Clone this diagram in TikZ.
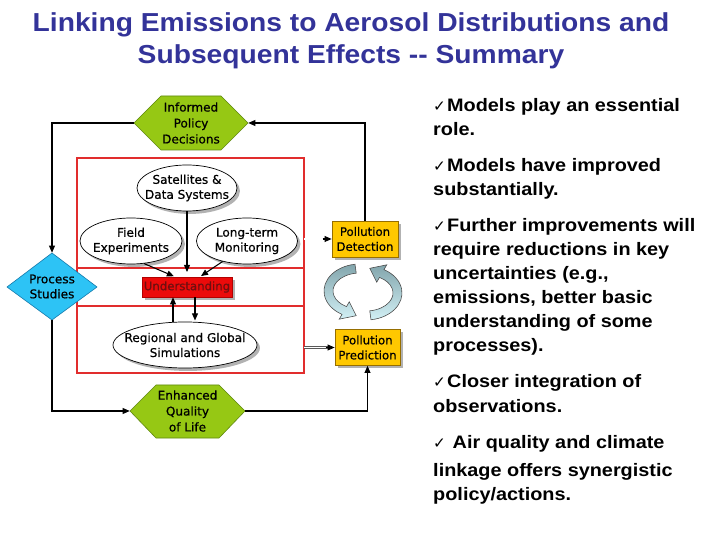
\documentclass[tikz,border=0pt]{standalone}
\usepackage{fontspec}
\setmainfont{Liberation Sans}
\newfontfamily\titlefont[FakeStretch=1.085]{Liberation Sans}
\newfontfamily\rfont[FakeStretch=1.1]{Liberation Sans}
\newfontfamily\dfont[FakeBold=0.6]{DejaVu Sans}
\newfontfamily\ckfont{DejaVu Sans}
\usetikzlibrary{shapes.geometric,arrows.meta,shadows,calc}
\definecolor{titleblue}{RGB}{51,51,153}
\definecolor{hexgreen}{RGB}{150,200,20}
\definecolor{hexedge}{RGB}{95,135,15}
\definecolor{diamblue}{RGB}{45,195,245}
\definecolor{diamedge}{RGB}{20,120,170}
\definecolor{boxyellow}{RGB}{255,200,0}
\definecolor{boxedge}{RGB}{150,110,0}
\definecolor{undred}{RGB}{235,10,10}
\definecolor{undtext}{RGB}{110,15,15}
\definecolor{bandred}{RGB}{225,45,45}
\definecolor{cyclight}{RGB}{210,240,245}
\definecolor{cycdark}{RGB}{130,165,172}
\newcommand\pxu{0.8536pt}
\newcommand\chk{{\ckfont\fontsize{13}{13}\selectfont ✓}\kern1pt}
\newcommand\cycpath{(354.99,264.26) arc[start angle=262, end angle=120, x radius=36, y radius=27]
  -- (339.25,319.16) -- (356.2,315.7) -- (349.25,301.84) -- (346.5,306.59)
  arc[start angle=120, end angle=262, x radius=27, y radius=18] -- cycle}
\begin{document}
\begin{tikzpicture}[x=0.03cm,y=-0.03cm,
  arr/.style={-{Triangle[length=6pt,width=5pt]}, line width=0.9pt},
  shd/.style={general shadow={fill=gray!60, shadow xshift=2.5pt, shadow yshift=-2.5pt}},
  ell/.style={ellipse, draw, fill=white, line width=0.6pt, inner sep=0, shd},
  dtext/.style={font=\dfont\fontsize{10.3}{12.8}\selectfont, align=center, inner sep=0},
  hextext/.style={dtext, font=\dfont\fontsize{10.3}{13.6}\selectfont},
  hexs/.style={fill=hexgreen, draw=hexedge, line width=0.5pt},
  pbox/.style={rectangle, fill=boxyellow, draw=boxedge, line width=0.6pt, inner sep=0, align=center,
    font=\dfont\fontsize{10}{12.8}\selectfont, shd},
  bandline/.style={draw=bandred, line width=0.9pt},
  dbl/.style={draw=gray!70!black, double=white, double distance=1.5pt, line width=0.5pt},
  rt/.style={anchor=base west, inner sep=0, font=\rfont\bfseries\fontsize{15.4}{20}\selectfont},
  ttl/.style={anchor=base, inner sep=0, text=titleblue, font=\titlefont\bfseries\fontsize{22.2}{26}\selectfont}
]
\useasboundingbox (0,0) rectangle (720,540);
\fill[white] (0,0) rectangle (720,540);

% title
\node[ttl] (t1) at (351,32) {Linking Emissions to Aerosol Distributions and};
\node[ttl] (t2) at (351,64) {Subsequent Effects -{}- Summary};

% right text
\node[rt] (r1) at (433,112) {\chk Models play an essential};
\node[rt] (r2) at (433,136) {role.};
\node[rt] (r3) at (433,172) {\chk Models have improved};
\node[rt] (r4) at (433,196) {substantially.};
\node[rt] (r5) at (433,232) {\chk Further improvements will};
\node[rt] (r6) at (433,256) {require reductions in key};
\node[rt] (r7) at (433,280) {uncertainties (e.g.,};
\node[rt] (r8) at (433,304) {emissions, better basic};
\node[rt] (r9) at (433,328) {understanding of some};
\node[rt] (r10) at (433,352) {processes).};
\node[rt] (r11) at (433,388) {\chk Closer integration of};
\node[rt] (r12) at (433,412) {observations.};
\node[rt] (r13) at (433,448) {\chk\ Air quality and climate};
\node[rt] (r14) at (433,476) {linkage offers synergistic};
\node[rt] (r15) at (433,500) {policy/actions.};

% red observation box with bands
\draw[bandline] (77,158) rectangle (304,373);
\draw[bandline] (77,268) -- (304,268);
\draw[bandline] (77,306) -- (304,306);

% hexagons and diamond
\filldraw[hexs] (134,123) -- (161,96) -- (221,96) -- (248,123) -- (221,150) -- (161,150) -- cycle;
\node[hextext, minimum width=114*\pxu, minimum height=54*\pxu] (ipd) at (191,123) {Informed\\Policy\\Decisions};
\filldraw[hexs] (130,411) -- (156,385) -- (219,385) -- (245,411) -- (219,438) -- (156,438) -- cycle;
\node[hextext, minimum width=115*\pxu, minimum height=53*\pxu] (eql) at (187.5,411) {Enhanced\\Quality\\of Life};
\filldraw[fill=diamblue, draw=diamedge, line width=0.5pt] (7,287) -- (52,253) -- (97,287) -- (52,320) -- cycle;
\node[dtext, minimum width=90*\pxu, minimum height=67*\pxu] (ps) at (52,286.5) {Process\\Studies};

% ellipses
\node[ell, minimum width=100*\pxu, minimum height=46*\pxu] (sat) at (187,188) {};
\node[dtext] (satt) at (sat) {Satellites \&\\Data Systems};
\node[ell, minimum width=102*\pxu, minimum height=46*\pxu] (fe) at (131,241) {};
\node[dtext] (fet) at (fe) {Field\\Experiments};
\node[ell, minimum width=101*\pxu, minimum height=46*\pxu] (lt) at (247,241) {};
\node[dtext] (ltt) at (lt) {Long-term\\Monitoring};
\node[ell, minimum width=144*\pxu, minimum height=46*\pxu] (reg) at (185,345) {};
\node[dtext] (regt) at (reg) {Regional and Global\\Simulations};

% understanding
\node[rectangle, fill=undred, draw=red!70!black, line width=0.5pt, inner sep=0, shd,
  minimum width=90*\pxu, minimum height=20*\pxu, text=undtext,
  font=\dfont\fontsize{10}{12}\selectfont] (und) at (187,287) {Understanding};

% pollution boxes
\node[pbox, minimum width=66*\pxu, minimum height=36*\pxu] (pd) at (365,239) {Pollution\\Detection};
\node[pbox, minimum width=65*\pxu, minimum height=36*\pxu] (pp) at (367.5,347.5) {Pollution\\Prediction};

% outer loop connectors
\draw[arr] (ipd.west) -| (ps.north);
\draw[arr] (pd.north) |- (ipd.east);
\draw[arr] (ps.south) |- (eql.west);
\draw[arr] (eql.east) -| (pp.south);

% inner connectors
\draw[arr, shorten >=4pt] (sat.south) -- (und.north);
\draw[arr, shorten >=1pt] (fe.-60) -- ($(und.north)+(-12,0)$);
\draw[arr, shorten >=1pt] (lt.-140) -- ($(und.north)+(13,0)$);
\draw[arr] ($(reg.north)+(-12,0)$) -- ($(und.south)+(-14,0)$);
\draw[arr, shorten >=1pt] ($(und.south)+(8,0)$) -- ($(reg.north)+(10,0)$);

% double connectors from the observation box
\coordinate (o1) at (304,239);
\coordinate (o2) at (304,347.5);
\draw[dbl, shorten >=6pt] (o1) -- (pd.west);
\draw[arr] ($(pd.west)+(-9,0)$) -- (pd.west);
\draw[dbl, shorten >=6pt] (o2) -- (pp.west);
\draw[arr] ($(pp.west)+(-9,0)$) -- (pp.west);

% cycle arrows
\draw[draw=gray!60!black, line width=0.5pt, top color=cycdark, bottom color=cyclight] \cycpath;
\begin{scope}[rotate around={180:(363,292)}]
\draw[draw=gray!60!black, line width=0.5pt, top color=cycdark, bottom color=cyclight] \cycpath;
\end{scope}
\end{tikzpicture}
\end{document}
